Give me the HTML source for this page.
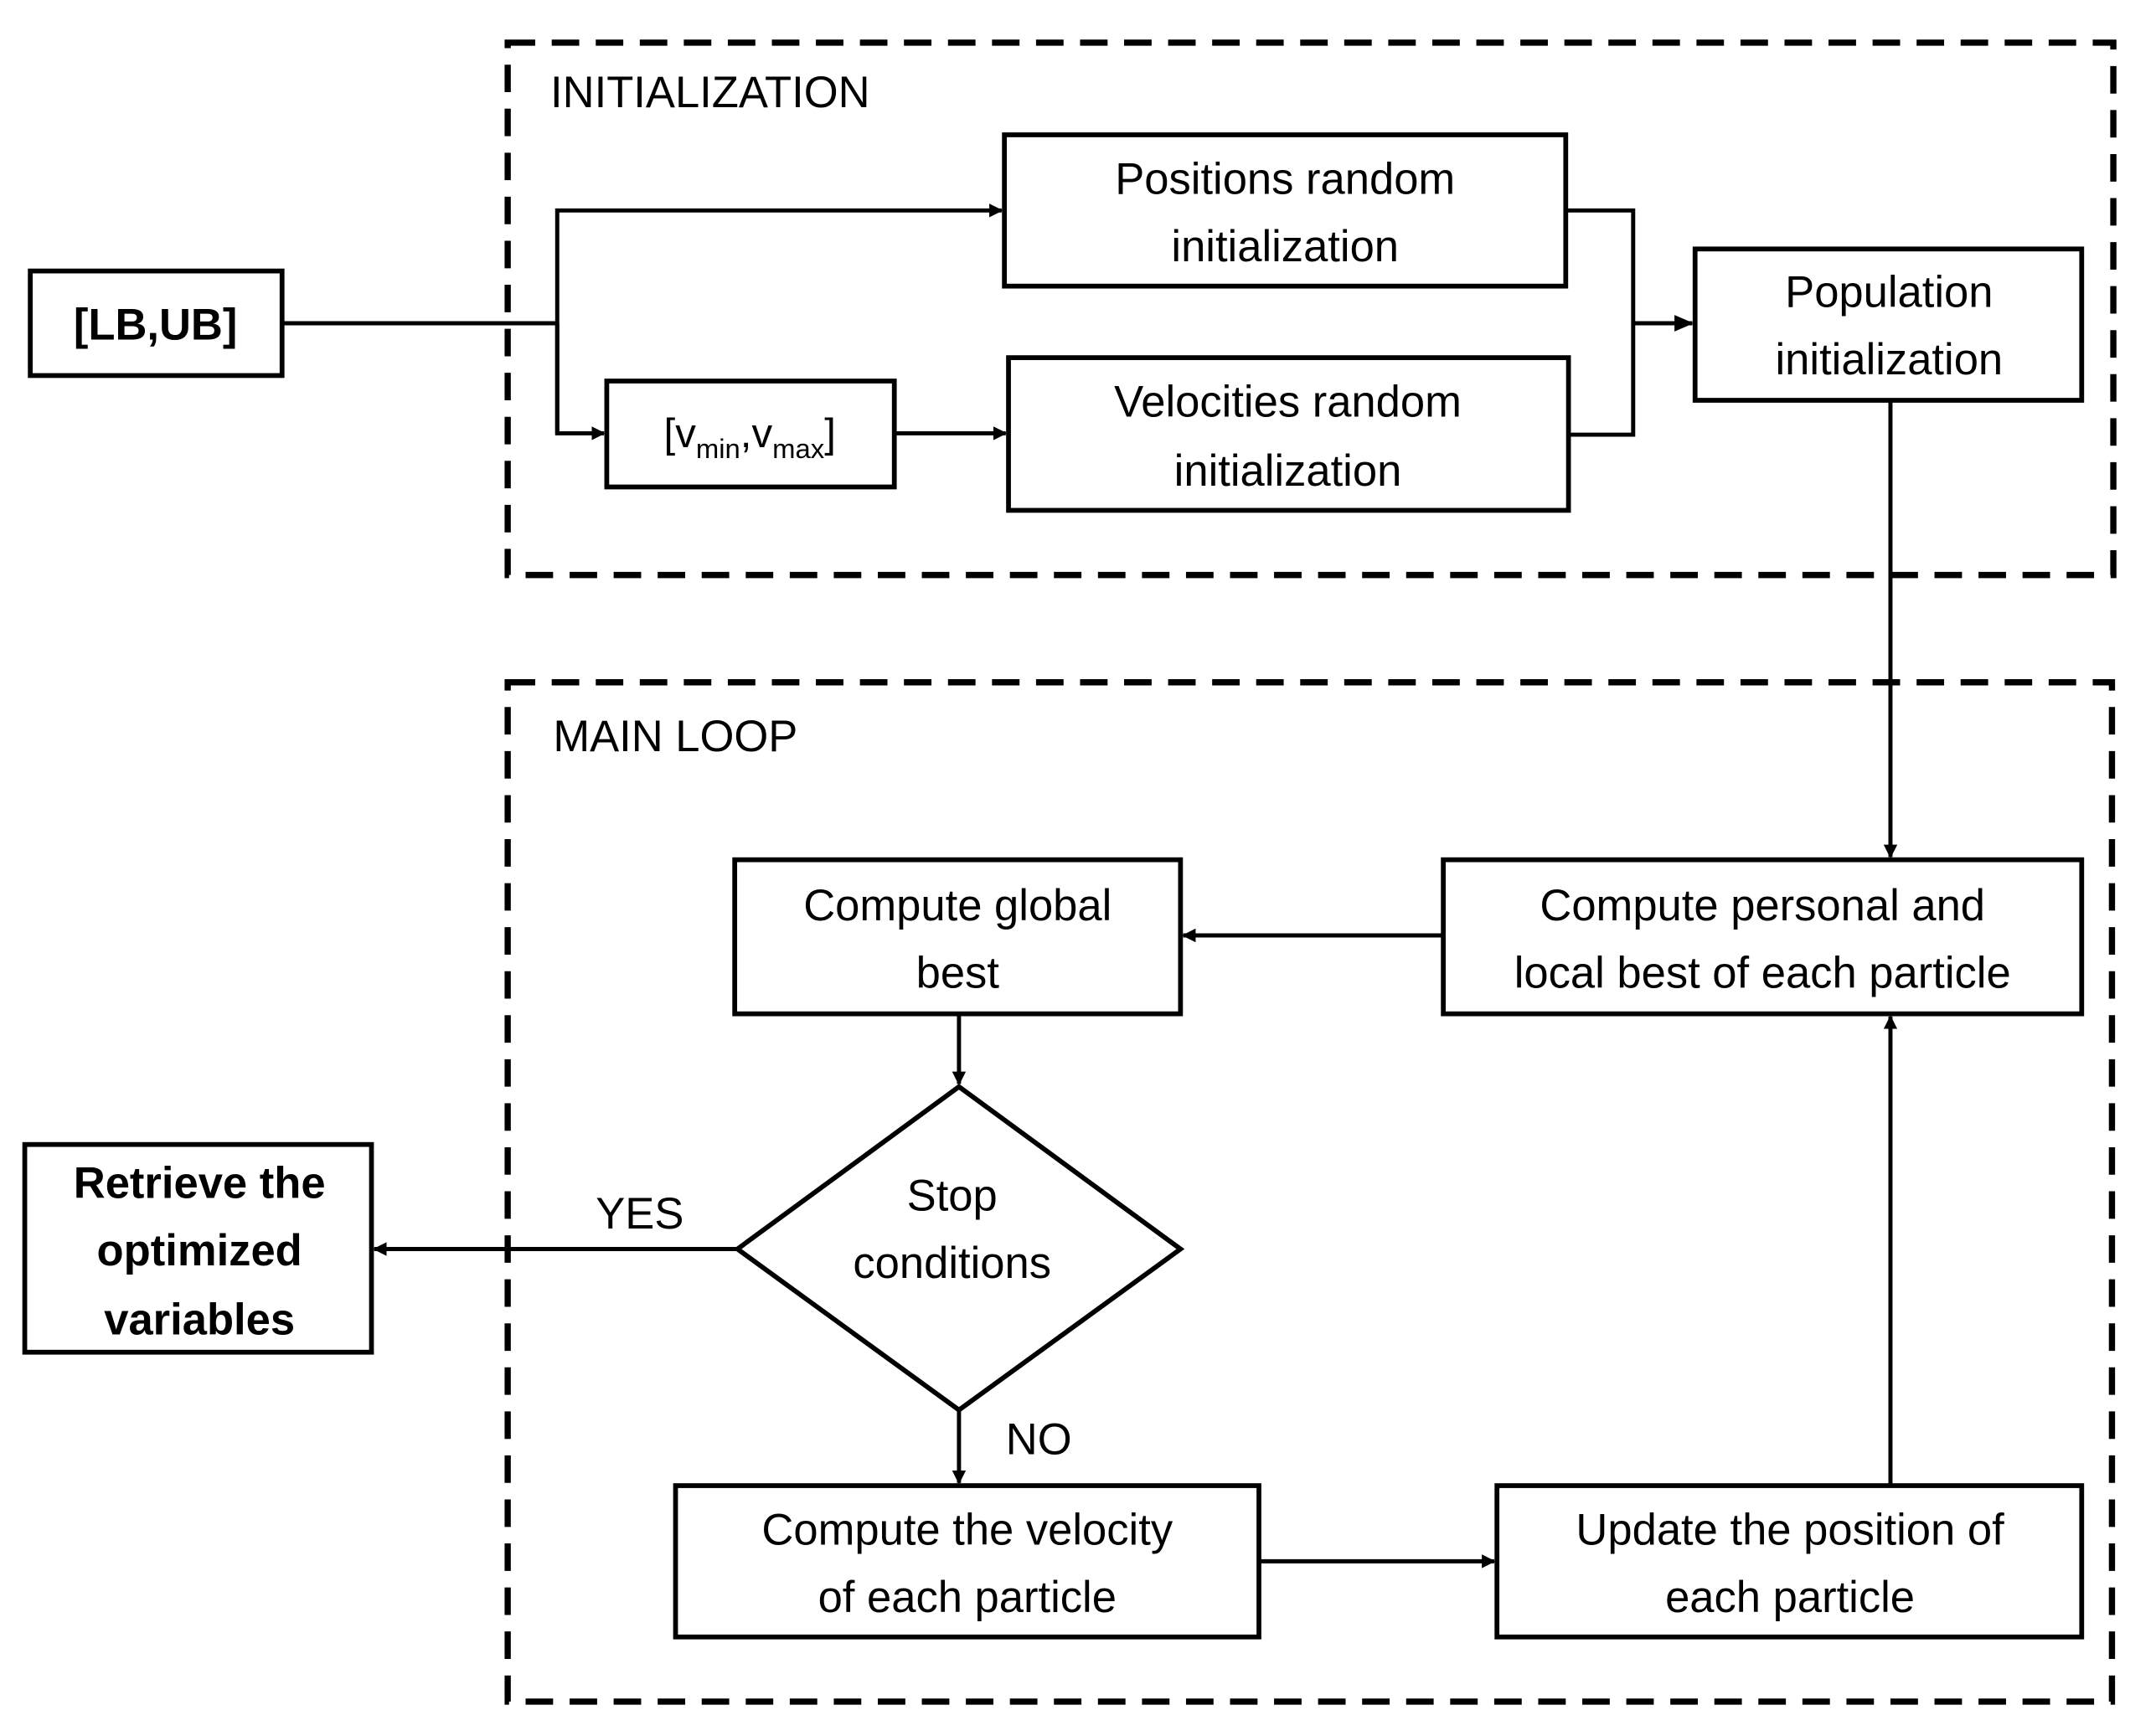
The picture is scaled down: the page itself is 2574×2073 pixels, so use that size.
<!DOCTYPE html>
<html><head><meta charset="utf-8"><style>
html,body{margin:0;padding:0;background:#fff;}
svg{display:block;}
text{font-family:"Liberation Sans",sans-serif;fill:#000;}
</style></head><body>
<svg width="2574" height="2073" viewBox="0 0 1567 1262" preserveAspectRatio="none" xmlns="http://www.w3.org/2000/svg">
<defs>
<marker id="a" markerWidth="10" markerHeight="10" refX="9" refY="5" orient="auto" markerUnits="userSpaceOnUse">
<path d="M0,0 L10,5 L0,10 Z" fill="#000"/></marker>
<marker id="b" markerWidth="14" markerHeight="14" refX="13" refY="7" orient="auto" markerUnits="userSpaceOnUse">
<path d="M0,1 L14,7 L0,13 Z" fill="#000"/></marker>
</defs>
<g fill="none" stroke="#000" stroke-width="4.5" stroke-dasharray="20,12">
<rect x="369" y="31" width="1167" height="387"/>
<rect x="369" y="496" width="1166" height="741"/>
</g>
<g fill="#fff" stroke="#000" stroke-width="3.5">
<rect x="22" y="197" width="183" height="76"/>
<rect x="730" y="98" width="408" height="110"/>
<rect x="1232" y="181" width="281" height="110"/>
<rect x="441" y="277" width="209" height="77"/>
<rect x="733" y="260" width="407" height="111"/>
<rect x="534" y="625" width="324" height="112"/>
<rect x="1049" y="625" width="464" height="112"/>
<polygon points="697,790 858,908 697,1025 536,908"/>
<rect x="18" y="832" width="252" height="151"/>
<rect x="491" y="1080" width="424" height="110"/>
<rect x="1088" y="1080" width="425" height="110"/>
</g>
<g fill="none" stroke="#000" stroke-width="3">
<line x1="205" y1="235" x2="405" y2="235"/>
<polyline points="405,315 405,153 728,153" marker-end="url(#a)"/>
<polyline points="405,235 405,315 439,315" marker-end="url(#a)"/>
<line x1="650" y1="315" x2="731" y2="315" marker-end="url(#a)"/>
<polyline points="1138,153 1187,153 1187,316 1140,316"/>
<line x1="1187" y1="235" x2="1230" y2="235" marker-end="url(#b)"/>
<line x1="1374" y1="291" x2="1374" y2="623" marker-end="url(#a)"/>
<line x1="1049" y1="680" x2="860" y2="680" marker-end="url(#a)"/>
<line x1="697" y1="737" x2="697" y2="788" marker-end="url(#a)"/>
<line x1="536" y1="908" x2="272" y2="908" marker-end="url(#a)"/>
<line x1="697" y1="1025" x2="697" y2="1078" marker-end="url(#a)"/>
<line x1="915" y1="1135" x2="1086" y2="1135" marker-end="url(#a)"/>
<line x1="1374" y1="1080" x2="1374" y2="739" marker-end="url(#a)"/>
</g>
<g font-size="32" text-anchor="middle">
<text x="400" y="78" text-anchor="start">INITIALIZATION</text>
<text x="402" y="546" text-anchor="start">MAIN LOOP</text>
<text x="113" y="247" font-weight="bold">[LB,UB]</text>
<text x="934" y="141">Positions random</text>
<text x="934" y="190">initialization</text>
<text x="1373" y="223">Population</text>
<text x="1373" y="272">initialization</text>
<text x="545" y="325" font-size="30">[v<tspan font-size="20" dy="8">min</tspan><tspan dy="-8">,v</tspan><tspan font-size="20" dy="8">max</tspan><tspan dy="-8">]</tspan></text>
<text x="936" y="303">Velocities random</text>
<text x="936" y="353">initialization</text>
<text x="696" y="669">Compute global</text>
<text x="696" y="718">best</text>
<text x="1281" y="669">Compute personal and</text>
<text x="1281" y="718">local best of each particle</text>
<text x="692" y="880">Stop</text>
<text x="692" y="929">conditions</text>
<text x="465" y="893">YES</text>
<text x="755" y="1057">NO</text>
<g font-weight="bold"><text x="145" y="871">Retrieve the</text>
<text x="145" y="920">optimized</text>
<text x="145" y="970">variables</text></g>
<text x="703" y="1123">Compute the velocity</text>
<text x="703" y="1172">of each particle</text>
<text x="1301" y="1123">Update the position of</text>
<text x="1301" y="1172">each particle</text>
</g>
</svg>
</body></html>
